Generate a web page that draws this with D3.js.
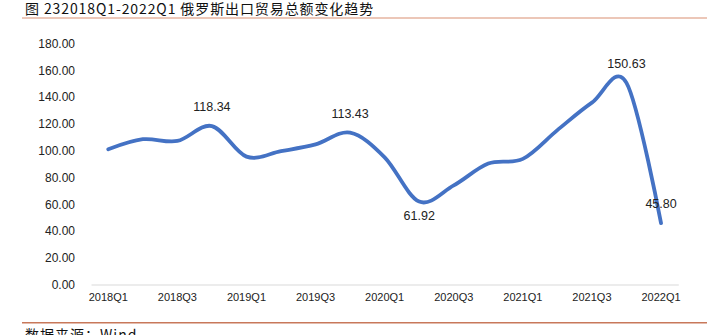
<!DOCTYPE html>
<html><head><meta charset="utf-8">
<script src="https://cdn.jsdelivr.net/npm/d3@7"></script>
<style>
html,body{margin:0;padding:0;background:#fff;overflow:hidden}
svg{display:block}
</style></head>
<body>
<svg id="c" width="707" height="335"></svg>
<script>
const categories = ["2018Q1","2018Q2","2018Q3","2018Q4","2019Q1","2019Q2","2019Q3","2019Q4","2020Q1","2020Q2","2020Q3","2020Q4","2021Q1","2021Q2","2021Q3","2021Q4","2022Q1"];
const values = [101.0,108.5,107.2,118.34,95.5,99.6,104.6,113.43,95.0,61.92,74.0,90.3,93.8,115.3,135.8,150.63,45.80];
const tickLabels = ["2018Q1","2018Q3","2019Q1","2019Q3","2020Q1","2020Q3","2021Q1","2021Q3","2022Q1"];
const yTicks = [0,20,40,60,80,100,120,140,160,180];
const labeled = {"2018Q4":"above","2019Q4":"above","2020Q2":"below","2021Q4":"above","2022Q1":"above"};
const titleText = "图 232018Q1-2022Q1 俄罗斯出口贸易总额变化趋势";
const sourceText = "数据来源：Wind";

const svg = d3.select("#c");
const x = d3.scaleBand().domain(categories).range([91, 678.3]).padding(0);
const y = d3.scaleLinear().domain([0,180]).range([284.5, 43.5]);
const cx = d => x(d) + x.bandwidth()/2;

// title
svg.append("text").attr("x",25).attr("y",14)
  .style("font-family","'Noto Sans CJK SC'").style("font-size","14px").style("letter-spacing","0.9px")
  .attr("fill","#111").text(titleText);
svg.append("line").attr("x1",22).attr("x2",707).attr("y1",18).attr("y2",18)
  .attr("stroke","#E6B4A0").attr("stroke-width",1.5);

// y axis
const ya = svg.append("g").attr("transform","translate(86,0)")
  .call(d3.axisLeft(y).tickValues(yTicks).tickSize(0).tickPadding(10).tickFormat(d3.format(".2f")));
ya.select(".domain").remove();
ya.selectAll("text").style("font-family","'Liberation Sans'").style("font-size","12px").attr("fill","#222").attr("dx","-1");

// x axis
const xa = svg.append("g").attr("transform","translate(0,284.5)")
  .call(d3.axisBottom(x).tickValues(tickLabels).tickSize(0).tickPadding(9));
xa.select(".domain").attr("stroke","#D9D9D9").attr("stroke-width",1);
xa.selectAll("text").style("font-family","'Liberation Sans'").style("font-size","11px").attr("fill","#222");

// line
const line = d3.line().x((d,i)=>cx(categories[i])).y(d=>y(d)).curve(d3.curveCardinal.tension(0));
svg.append("path").datum(values).attr("d",line).attr("fill","none")
  .attr("stroke","#4472C4").attr("stroke-width",3.8).attr("stroke-linecap","round").attr("stroke-linejoin","round");

// data labels
const lab = categories.map((c,i)=>({c,v:values[i],pos:labeled[c]})).filter(d=>d.pos);
svg.selectAll(".dl").data(lab).enter().append("text")
  .attr("x",d=>cx(d.c)).attr("y",d=>d.pos==="above"? y(d.v)-15 : y(d.v)+18)
  .attr("text-anchor","middle")
  .style("font-family","'Liberation Sans'").style("font-size","12.5px").attr("fill","#222")
  .text(d=>d3.format(".2f")(d.v));

// bottom rule + source
svg.append("line").attr("x1",22).attr("x2",707).attr("y1",322.7).attr("y2",322.7)
  .attr("stroke","#C8785A").attr("stroke-width",1.5);
svg.append("text").attr("x",25).attr("y",340)
  .style("font-family","'Noto Sans CJK SC'").style("font-size","14px").style("letter-spacing","1px")
  .attr("fill","#111").text(sourceText);
</script>
</body></html>
